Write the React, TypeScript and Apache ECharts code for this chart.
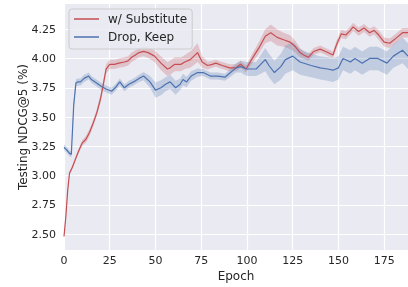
import { useEffect, useRef } from 'react';
import * as echarts from 'echarts';

const xTicks = [0, 25, 50, 75, 100, 125, 150, 175];
const yTicks = [2.5, 2.75, 3.0, 3.25, 3.5, 3.75, 4.0, 4.25];

const redName = 'w/ Substitute';
const blueName = 'Drop, Keep';

const redEpochs = [0, 1, 2, 3, 4.5, 6, 8, 10, 12, 14, 16, 18, 20, 21.5, 23, 25, 27.5, 30, 33, 35, 37, 39, 41, 43.5, 46, 49.5, 53, 56.5, 58, 60.5, 64, 66, 69, 71, 73, 75.5, 78.5, 81, 83, 86.5, 90.5, 94, 96.5, 99.5, 102.5, 106.5, 110, 113, 116.5, 120, 123.5, 126.5, 129, 131, 133.5, 136.5, 140, 143, 147, 149, 151.5, 154, 156.5, 158, 161, 164, 167, 169.5, 172, 175, 178, 182, 185, 188];
const redMean = [2.48, 2.65, 2.87, 3.02, 3.07, 3.13, 3.21, 3.28, 3.31, 3.37, 3.45, 3.54, 3.66, 3.78, 3.91, 3.95, 3.95, 3.96, 3.97, 3.98, 4.01, 4.03, 4.05, 4.06, 4.05, 4.02, 3.96, 3.91, 3.92, 3.95, 3.95, 3.97, 3.99, 4.02, 4.05, 3.97, 3.94, 3.95, 3.96, 3.94, 3.92, 3.92, 3.95, 3.91, 3.99, 4.09, 4.19, 4.22, 4.18, 4.16, 4.14, 4.10, 4.05, 4.03, 4.01, 4.06, 4.08, 4.06, 4.03, 4.12, 4.21, 4.20, 4.24, 4.27, 4.23, 4.26, 4.22, 4.24, 4.20, 4.14, 4.13, 4.18, 4.22, 4.22];
const redBand = [0.01, 0.01, 0.01, 0.015, 0.015, 0.02, 0.02, 0.025, 0.03, 0.03, 0.03, 0.03, 0.035, 0.04, 0.04, 0.04, 0.04, 0.04, 0.04, 0.04, 0.04, 0.04, 0.04, 0.04, 0.045, 0.05, 0.06, 0.06, 0.06, 0.06, 0.06, 0.06, 0.07, 0.075, 0.08, 0.05, 0.035, 0.03, 0.03, 0.03, 0.03, 0.03, 0.03, 0.03, 0.04, 0.05, 0.06, 0.07, 0.07, 0.06, 0.06, 0.05, 0.04, 0.03, 0.03, 0.03, 0.03, 0.03, 0.03, 0.035, 0.035, 0.035, 0.035, 0.035, 0.035, 0.035, 0.035, 0.035, 0.04, 0.04, 0.04, 0.04, 0.04, 0.04];

const blueEpochs = [0, 1.5, 3, 4, 5.3, 6.5, 7.5, 9, 11, 13.5, 15, 17, 20.5, 23, 26, 28, 30.5, 33, 35.5, 38, 41, 43.5, 47, 50, 53, 55.5, 58, 61, 63.5, 65, 67, 69.5, 73, 76, 80, 84, 88, 91, 94, 96.5, 100, 105, 107.5, 110, 112, 115, 118.5, 121, 125, 129, 135, 140, 144, 147, 150, 152.5, 156.5, 159, 163, 167, 171.5, 176.5, 180, 185, 188];
const blueMean = [3.24, 3.22, 3.19, 3.18, 3.6, 3.79, 3.8, 3.8, 3.83, 3.85, 3.82, 3.8, 3.76, 3.74, 3.72, 3.75, 3.8, 3.75, 3.78, 3.8, 3.83, 3.85, 3.8, 3.73, 3.75, 3.78, 3.8, 3.75, 3.78, 3.82, 3.8, 3.85, 3.88, 3.88, 3.85, 3.85, 3.84, 3.88, 3.92, 3.93, 3.91, 3.91, 3.95, 3.99, 3.94, 3.88, 3.93, 3.99, 4.02, 3.97, 3.94, 3.92, 3.91, 3.9, 3.92, 4.0, 3.97, 4.0, 3.96, 4.0, 4.0, 3.96, 4.02, 4.07, 4.02];
const blueBand = [0.025, 0.025, 0.025, 0.025, 0.03, 0.03, 0.03, 0.03, 0.03, 0.03, 0.03, 0.03, 0.03, 0.03, 0.03, 0.03, 0.03, 0.03, 0.03, 0.03, 0.03, 0.035, 0.05, 0.065, 0.065, 0.06, 0.06, 0.06, 0.05, 0.05, 0.045, 0.04, 0.035, 0.03, 0.03, 0.03, 0.03, 0.035, 0.04, 0.05, 0.06, 0.06, 0.08, 0.1, 0.1, 0.1, 0.11, 0.12, 0.12, 0.11, 0.1, 0.1, 0.1, 0.1, 0.1, 0.1, 0.1, 0.1, 0.1, 0.1, 0.1, 0.1, 0.1, 0.11, 0.11];

const RED = '#C44E52';
const BLUE = '#4C72B0';
const FONT = 'DejaVu Sans';
const TEXT = '#262626';

function bandSeries(xs: number[], m: number[], b: number[], fill: string, z: number) {
  return {
    type: 'custom',
    silent: true,
    clip: true,
    z,
    data: [[xs[0], m[0]]],
    renderItem: (_p: any, api: any) => {
      const top = xs.map((x, i) => api.coord([x, m[i] + b[i]]));
      const bot = xs.map((x, i) => api.coord([x, m[i] - b[i]])).reverse();
      return {
        type: 'polygon',
        shape: { points: top.concat(bot) },
        style: { fill, stroke: 'none' },
      };
    },
  };
}

export default function App() {
  const ref = useRef<HTMLDivElement>(null);
  useEffect(() => {
    if (!ref.current) return;
    const chart = echarts.init(ref.current, null, { renderer: 'svg' });
    const pts = (xs: number[], ys: number[]) => xs.map((x, i) => [x, ys[i]]);
    chart.setOption({
      animation: false,
      textStyle: { fontFamily: FONT },
      grid: {
        left: 64, right: 0, top: 4, bottom: 34,
        show: true, backgroundColor: '#EAEAF2', borderWidth: 0,
        containLabel: false,
      },
      legend: {
        data: [redName, blueName],
        orient: 'vertical',
        left: 69, top: 9,
        icon: 'rect',
        itemWidth: 25, itemHeight: 1.5,
        itemGap: 4,
        padding: [3, 5, 5, 5],
        backgroundColor: 'rgba(234,234,242,0.8)',
        borderColor: '#CCCCCC', borderWidth: 1, borderRadius: 3,
        textStyle: { fontFamily: FONT, fontSize: 12, color: TEXT, lineHeight: 14, padding: [0, 0, 0, 4] },
      },
      xAxis: {
        type: 'value', min: 0, max: 188,
        name: 'Epoch', nameLocation: 'middle', nameGap: 20, nameMoveOverlap: false,
        nameTextStyle: { fontFamily: FONT, fontSize: 12, color: TEXT },
        axisLine: { show: false },
        axisTick: { show: false, customValues: xTicks },
        axisLabel: { customValues: xTicks, fontFamily: FONT, fontSize: 11, color: TEXT, margin: 5 },
        splitLine: { show: true, lineStyle: { color: '#FFFFFF', width: 1.2 } },
      },
      yAxis: {
        type: 'value', min: 2.365, max: 4.465,
        name: 'Testing NDCG@5 (%)', nameLocation: 'middle', nameGap: 35, nameMoveOverlap: false,
        nameTextStyle: { fontFamily: FONT, fontSize: 12, color: TEXT },
        axisLine: { show: false },
        axisTick: { show: false, customValues: yTicks },
        axisLabel: { customValues: yTicks, fontFamily: FONT, fontSize: 11, color: TEXT, margin: 8, formatter: (v: number) => v.toFixed(2) },
        splitLine: { show: true, lineStyle: { color: '#FFFFFF', width: 1.2 } },
      },
      series: [
        bandSeries(redEpochs, redMean, redBand, 'rgba(196,78,82,0.25)', 1),
        bandSeries(blueEpochs, blueMean, blueBand, 'rgba(76,114,176,0.25)', 1),
        {
          name: redName, type: 'line', data: pts(redEpochs, redMean),
          showSymbol: false, symbol: 'none', z: 3,
          lineStyle: { color: RED, width: 1.2 }, itemStyle: { color: RED },
        },
        {
          name: blueName, type: 'line', data: pts(blueEpochs, blueMean),
          showSymbol: false, symbol: 'none', z: 3,
          lineStyle: { color: BLUE, width: 1.2 }, itemStyle: { color: BLUE },
        },
      ],
    });
    return () => chart.dispose();
  }, []);
  return <div ref={ref} style={{ position: 'fixed', left: 0, top: 0, width: 408, height: 287 }} />;
}
